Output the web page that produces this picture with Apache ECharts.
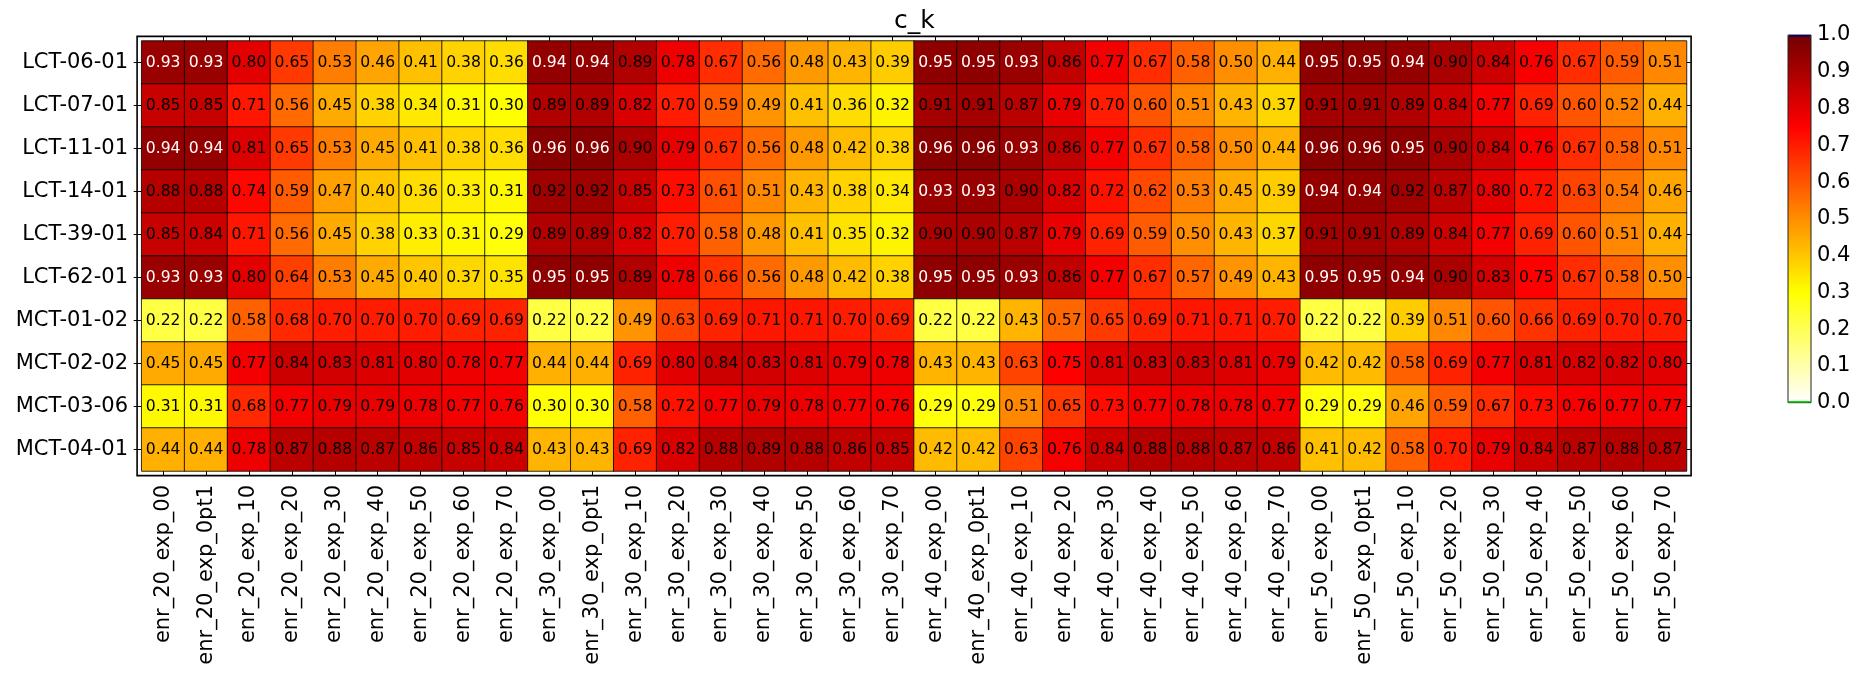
<!DOCTYPE html>
<html>
<head>
<meta charset="utf-8">
<script src="https://cdn.jsdelivr.net/npm/echarts@6/dist/echarts.min.js"></script>
<style>
html,body{margin:0;padding:0;background:#ffffff;}
#chart{width:1870px;height:675px;}
</style>
</head>
<body>
<div id="chart"></div>
<script>
// ---------------- DATA ----------------
const chartTitle = 'c_k';
const xCategories = [
  'enr_20_exp_00','enr_20_exp_0pt1','enr_20_exp_10','enr_20_exp_20','enr_20_exp_30','enr_20_exp_40','enr_20_exp_50','enr_20_exp_60','enr_20_exp_70',
  'enr_30_exp_00','enr_30_exp_0pt1','enr_30_exp_10','enr_30_exp_20','enr_30_exp_30','enr_30_exp_40','enr_30_exp_50','enr_30_exp_60','enr_30_exp_70',
  'enr_40_exp_00','enr_40_exp_0pt1','enr_40_exp_10','enr_40_exp_20','enr_40_exp_30','enr_40_exp_40','enr_40_exp_50','enr_40_exp_60','enr_40_exp_70',
  'enr_50_exp_00','enr_50_exp_0pt1','enr_50_exp_10','enr_50_exp_20','enr_50_exp_30','enr_50_exp_40','enr_50_exp_50','enr_50_exp_60','enr_50_exp_70'
];
const yCategories = ['LCT-06-01','LCT-07-01','LCT-11-01','LCT-14-01','LCT-39-01','LCT-62-01','MCT-01-02','MCT-02-02','MCT-03-06','MCT-04-01'];

const row_LCT_06_01 = [0.93,0.93,0.80,0.65,0.53,0.46,0.41,0.38,0.36, 0.94,0.94,0.89,0.78,0.67,0.56,0.48,0.43,0.39, 0.95,0.95,0.93,0.86,0.77,0.67,0.58,0.50,0.44, 0.95,0.95,0.94,0.90,0.84,0.76,0.67,0.59,0.51];
const row_LCT_07_01 = [0.85,0.85,0.71,0.56,0.45,0.38,0.34,0.31,0.30, 0.89,0.89,0.82,0.70,0.59,0.49,0.41,0.36,0.32, 0.91,0.91,0.87,0.79,0.70,0.60,0.51,0.43,0.37, 0.91,0.91,0.89,0.84,0.77,0.69,0.60,0.52,0.44];
const row_LCT_11_01 = [0.94,0.94,0.81,0.65,0.53,0.45,0.41,0.38,0.36, 0.96,0.96,0.90,0.79,0.67,0.56,0.48,0.42,0.38, 0.96,0.96,0.93,0.86,0.77,0.67,0.58,0.50,0.44, 0.96,0.96,0.95,0.90,0.84,0.76,0.67,0.58,0.51];
const row_LCT_14_01 = [0.88,0.88,0.74,0.59,0.47,0.40,0.36,0.33,0.31, 0.92,0.92,0.85,0.73,0.61,0.51,0.43,0.38,0.34, 0.93,0.93,0.90,0.82,0.72,0.62,0.53,0.45,0.39, 0.94,0.94,0.92,0.87,0.80,0.72,0.63,0.54,0.46];
const row_LCT_39_01 = [0.85,0.84,0.71,0.56,0.45,0.38,0.33,0.31,0.29, 0.89,0.89,0.82,0.70,0.58,0.48,0.41,0.35,0.32, 0.90,0.90,0.87,0.79,0.69,0.59,0.50,0.43,0.37, 0.91,0.91,0.89,0.84,0.77,0.69,0.60,0.51,0.44];
const row_LCT_62_01 = [0.93,0.93,0.80,0.64,0.53,0.45,0.40,0.37,0.35, 0.95,0.95,0.89,0.78,0.66,0.56,0.48,0.42,0.38, 0.95,0.95,0.93,0.86,0.77,0.67,0.57,0.49,0.43, 0.95,0.95,0.94,0.90,0.83,0.75,0.67,0.58,0.50];
const row_MCT_01_02 = [0.22,0.22,0.58,0.68,0.70,0.70,0.70,0.69,0.69, 0.22,0.22,0.49,0.63,0.69,0.71,0.71,0.70,0.69, 0.22,0.22,0.43,0.57,0.65,0.69,0.71,0.71,0.70, 0.22,0.22,0.39,0.51,0.60,0.66,0.69,0.70,0.70];
const row_MCT_02_02 = [0.45,0.45,0.77,0.84,0.83,0.81,0.80,0.78,0.77, 0.44,0.44,0.69,0.80,0.84,0.83,0.81,0.79,0.78, 0.43,0.43,0.63,0.75,0.81,0.83,0.83,0.81,0.79, 0.42,0.42,0.58,0.69,0.77,0.81,0.82,0.82,0.80];
const row_MCT_03_06 = [0.31,0.31,0.68,0.77,0.79,0.79,0.78,0.77,0.76, 0.30,0.30,0.58,0.72,0.77,0.79,0.78,0.77,0.76, 0.29,0.29,0.51,0.65,0.73,0.77,0.78,0.78,0.77, 0.29,0.29,0.46,0.59,0.67,0.73,0.76,0.77,0.77];
const row_MCT_04_01 = [0.44,0.44,0.78,0.87,0.88,0.87,0.86,0.85,0.84, 0.43,0.43,0.69,0.82,0.88,0.89,0.88,0.86,0.85, 0.42,0.42,0.63,0.76,0.84,0.88,0.88,0.87,0.86, 0.41,0.42,0.58,0.70,0.79,0.84,0.87,0.88,0.87];
const rows = [row_LCT_06_01,row_LCT_07_01,row_LCT_11_01,row_LCT_14_01,row_LCT_39_01,row_LCT_62_01,row_MCT_01_02,row_MCT_02_02,row_MCT_03_06,row_MCT_04_01];

const colorbarTickLabels = ['0.0','0.1','0.2','0.3','0.4','0.5','0.6','0.7','0.8','0.9','1.0'];

// ---------------- STYLE ----------------
const FONT = 'DejaVu Sans';
// reversed "hot"-like colormap, stops evenly spaced from 0 to 1
const hotColors = ['#ffffff','#ffffd4','#ffffaa','#ffff80','#ffff55','#ffff2b','#ffff00',
  '#ffe300','#ffc600','#ffaa00','#ff8e00','#ff7100','#ff5500','#ff3900','#ff1c00','#ff0000',
  '#e30000','#c70000','#aa0000','#8e0000','#720000'];
const G = {left:141.7, top:41, width:1544.8, height:430};
const FRAME_PAD = 4.6;
const CB = {left:1788, top:35, width:23, height:367.7};

const data = [];
rows.forEach((r, yi) => r.forEach((v, xi) => {
  data.push({value:[xi, yi, v], label:{color: v >= 0.925 ? '#ffffff' : '#000000'}});
}));

const chart = echarts.init(document.getElementById('chart'), null, {renderer:'canvas'});
const tickStyle = {color:'#000000', width:1};
const option = {
  animation:false,
  backgroundColor:'#ffffff',
  textStyle:{fontFamily:FONT},
  title:{text:chartTitle, left:894, top:9, padding:0,
    textStyle:{fontSize:25, fontWeight:'normal', color:'#000000', fontFamily:FONT}},
  grid:[
    {left:G.left, top:G.top, width:G.width, height:G.height},
    {left:CB.left, top:CB.top, width:CB.width, height:CB.height}
  ],
  xAxis:[
    {type:'category', gridIndex:0, data:xCategories, position:'bottom',
      axisLine:{show:false}, splitLine:{show:false},
      axisTick:{show:true, interval:0, alignWithLabel:true, length:5, lineStyle:tickStyle},
      axisLabel:{interval:0, rotate:90, fontSize:21, color:'#000000', margin:14, fontFamily:FONT}},
    {type:'category', gridIndex:0, data:xCategories, position:'top',
      axisLine:{show:false}, splitLine:{show:false},
      axisTick:{show:true, interval:0, alignWithLabel:true, length:5, lineStyle:tickStyle},
      axisLabel:{show:false}},
    {type:'category', gridIndex:1, data:['cb'], show:false}
  ],
  yAxis:[
    {type:'category', gridIndex:0, data:yCategories, inverse:true, position:'left',
      axisLine:{show:false}, splitLine:{show:false},
      axisTick:{show:true, interval:0, alignWithLabel:true, length:8, lineStyle:tickStyle},
      axisLabel:{interval:0, fontSize:21, color:'#000000', margin:13.7, fontFamily:FONT}},
    {type:'category', gridIndex:0, data:yCategories, inverse:true, position:'right',
      axisLine:{show:false}, splitLine:{show:false},
      axisTick:{show:true, interval:0, alignWithLabel:true, length:5, lineStyle:tickStyle},
      axisLabel:{show:false}},
    {type:'value', gridIndex:1, min:0, max:1, interval:0.1, position:'right',
      axisLine:{show:false}, splitLine:{show:false},
      axisTick:{show:true, inside:true, length:4, lineStyle:tickStyle},
      axisLabel:{fontSize:21, color:'#000000', margin:6, fontFamily:FONT,
        formatter: v => colorbarTickLabels[Math.round(v * 10)]}}
  ],
  visualMap:{
    type:'continuous', seriesIndex:0, min:0, max:1, calculable:false, orient:'vertical',
    left:CB.left, top:CB.top, itemWidth:CB.width, itemHeight:CB.height, padding:0,
    text:null, hoverLink:false, inRange:{color:hotColors}
  },
  series:[{
    type:'heatmap', xAxisIndex:0, yAxisIndex:0, data:data,
    label:{show:true, fontSize:15.6, fontFamily:FONT, formatter: p => p.value[2].toFixed(2)},
    itemStyle:{borderColor:'#000000', borderWidth:0.8},
    emphasis:{disabled:true}
  }],
  graphic:[
    {type:'rect', silent:true, z:100,
      shape:{x:G.left - FRAME_PAD, y:G.top - FRAME_PAD, width:G.width + 2*FRAME_PAD, height:G.height + 2*FRAME_PAD},
      style:{fill:'transparent', stroke:'#000000', lineWidth:1.6}},
    {type:'rect', silent:true, z:100,
      shape:{x:CB.left, y:CB.top, width:CB.width, height:CB.height},
      style:{fill:'transparent', stroke:'#222222', lineWidth:1}},
    {type:'line', silent:true, z:101,
      shape:{x1:CB.left + 0.5, y1:CB.top + 1, x2:CB.left + CB.width - 0.5, y2:CB.top + 1},
      style:{stroke:'#000080', lineWidth:1.5}},
    {type:'line', silent:true, z:101,
      shape:{x1:CB.left + 0.5, y1:CB.top + CB.height - 1, x2:CB.left + CB.width - 0.5, y2:CB.top + CB.height - 1},
      style:{stroke:'#00dd00', lineWidth:1.5}}
  ]
};
chart.setOption(option);
</script>
</body>
</html>
